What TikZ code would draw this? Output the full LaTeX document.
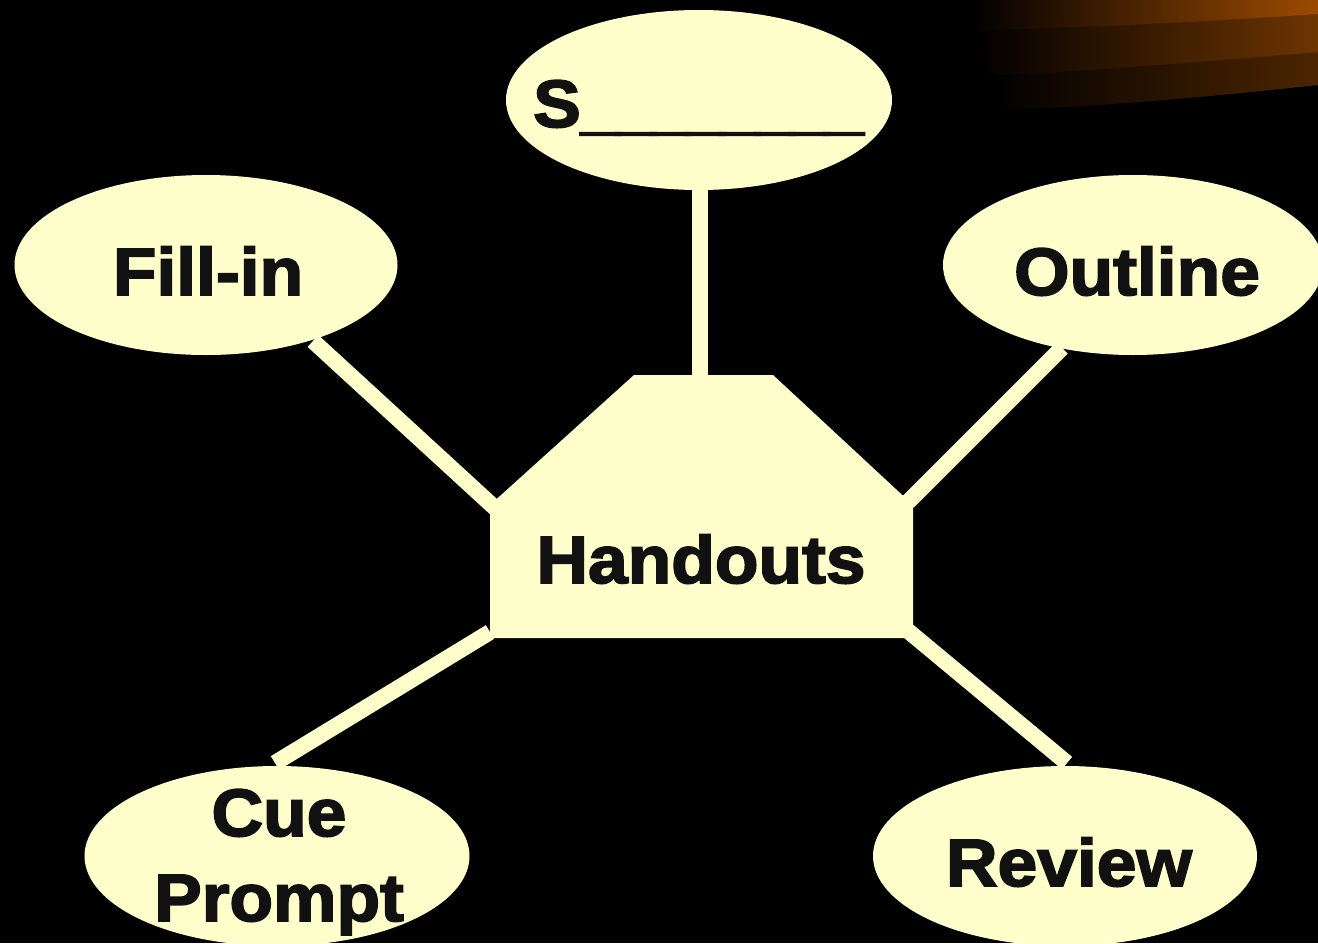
\documentclass[tikz,border=0pt]{standalone}
\usepackage{fontspec}
\newfontfamily\blk{Liberation Sans}[FakeBold=2.6,FakeStretch=1.065]
\usetikzlibrary{shapes.geometric}
\definecolor{cream}{HTML}{FFFFCC}
\definecolor{ink}{HTML}{111111}
\definecolor{orA}{HTML}{9C4B00}
\definecolor{orB}{HTML}{6E3500}
\definecolor{orC}{HTML}{4C2500}
\newcommand\usc{\_\kern-4.9pt}
\begin{document}
\begin{tikzpicture}[x=1pt,y=-1pt,
  bubble/.style={ellipse, fill=cream, draw=none, minimum width=384pt, minimum height=180pt, inner sep=0pt},
  lbl/.style={font=\blk\bfseries\fontsize{67}{85}\selectfont, text=ink, anchor=base, inner sep=0pt},
  link/.style={draw=cream, line width=16pt, line cap=butt}]
\fill[black] (0,0) rectangle (1318,943);
\useasboundingbox (0,0) rectangle (1318,943);
\clip (0,0) rectangle (1318,943);
% swoosh
\shade[left color=black, right color=orC] (990,40) .. controls (1100,40) and (1250,30) .. (1318,20) -- (1318,85) .. controls (1200,98) and (1080,108) .. (1000,110) -- cycle;
\shade[left color=black, right color=orB] (975,20) .. controls (1100,22) and (1250,16) .. (1318,10) -- (1318,52) .. controls (1200,62) and (1080,72) .. (985,76) -- cycle;
\shade[left color=black, right color=orA] (970,0) -- (1318,0) -- (1318,14) .. controls (1200,22) and (1080,28) .. (975,30) -- cycle;
% connector end points
\coordinate (s1) at (700,186);
\coordinate (s2) at (700,378);
\coordinate (f1) at (313,341);
\coordinate (f2) at (495,508);
\coordinate (o1) at (1062,348);
\coordinate (o2) at (908,502);
\coordinate (c1) at (275,763);
\coordinate (c2) at (490,632);
\coordinate (r1) at (1067,763);
\coordinate (r2) at (907,630);
\draw[link] (s1) -- (s2);
\draw[link] (f1) -- (f2);
\draw[link] (o1) -- (o2);
\draw[link] (c1) -- (c2);
\draw[link] (r1) -- (r2);
% bubbles
\node[bubble, minimum width=386pt] (sb) at (699,100) {};
\node[bubble, minimum width=383pt] (fb) at (206,265) {};
\node[bubble, minimum width=380pt] (ob) at (1133,265) {};
\node[bubble, minimum width=385pt] (cb) at (277,856) {};
\node[bubble, minimum width=384pt] (rb) at (1065,856) {};
% handouts
\fill[cream] (490,505) -- (634,375) -- (773,375) -- (913,505) -- (913,638) -- (490,638) -- cycle;
% labels
\node[lbl, anchor=base west] (st) at (533,127) {S\usc\usc\usc\usc\usc\usc\usc\_};
\node[lbl] (ft) at (208,295) {Fill-in};
\node[lbl] (ot) at (1137,295) {Outline};
\node[lbl] (ht) at (701,583) {Handouts};
\node[lbl] (ct) at (279,836) {Cue};
\node[lbl] (pt) at (279,921) {Prompt};
\node[lbl] (rt) at (1069,886) {Review};
\end{tikzpicture}
\end{document}
